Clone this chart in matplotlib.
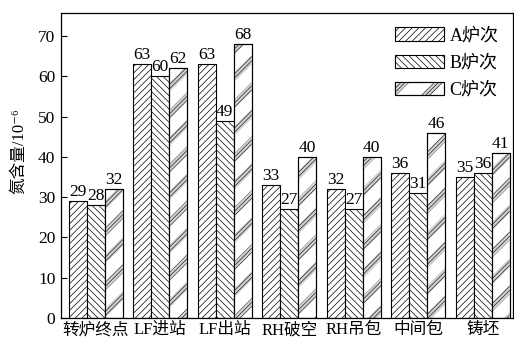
import numpy as np
import matplotlib
matplotlib.use('Agg')
import matplotlib.pyplot as plt
from matplotlib.patches import Rectangle, Polygon
from matplotlib.legend_handler import HandlerBase

plt.rcParams['font.family'] = ['Liberation Serif', 'Noto Sans CJK SC', 'DejaVu Serif']
plt.rcParams['hatch.linewidth'] = 0.5

# data
categories = ['转炉终点', 'LF进站', 'LF出站', 'RH破空', 'RH吊包', '中间包', '铸坯']
a_vals = [29, 63, 63, 33, 32, 36, 35]
b_vals = [28, 60, 49, 27, 27, 31, 36]
c_vals = [32, 62, 68, 40, 40, 46, 41]
series_names = ['A炉次', 'B炉次', 'C炉次']

fig = plt.figure(figsize=(5.14, 3.44), dpi=100)
ax = fig.add_axes([61 / 514, 26 / 344, 452 / 514, 305 / 344])
ax.set_xlim(-0.54, 6.47)
ax.set_ylim(0, 75.7)

x = np.arange(len(categories))
w = 0.28

bars_a = ax.bar(x - w, a_vals, w, facecolor='white', edgecolor='black',
                linewidth=0.8, hatch='/////')
bars_b = ax.bar(x, b_vals, w, facecolor='white', edgecolor='black',
                linewidth=0.8, hatch='\\\\\\\\\\')
bars_c = ax.bar(x + w, c_vals, w, facecolor='white', edgecolor='black',
                linewidth=0.8)

# striped pattern of the C bars: bands of dense hatch at 45 deg on screen
px_x = ax.transData.transform((1, 0))[0] - ax.transData.transform((0, 0))[0]
px_y = ax.transData.transform((0, 1))[1] - ax.transData.transform((0, 0))[1]
slope = px_x / px_y          # data-y per data-x for a 45 deg line
period = 27 / px_y           # band spacing in data-y
thick = 9 / px_y             # band thickness in data-y
band_face, band_line = '0.82', '0.15'
for i, bar in enumerate(bars_c):
    x0 = bar.get_x()
    x1 = x0 + bar.get_width()
    rise = slope * (x1 - x0)
    phase = (i * 0.37 % 1) * period
    k = -2
    while k * period + phase < bar.get_height() + period:
        b = k * period + phase
        band = Polygon([(x0, b), (x1, b + rise), (x1, b + rise + thick), (x0, b + thick)],
                       closed=True, facecolor=band_face, edgecolor=band_line,
                       linewidth=0, hatch='////////')
        ax.add_patch(band)
        band.set_clip_path(bar)
        k += 1
    # redraw the outline on top of the bands
    ax.add_patch(Rectangle((x0, 0), x1 - x0, bar.get_height(), fill=False,
                           edgecolor='black', linewidth=0.8))

# value labels
for bars, vals in [(bars_a, a_vals), (bars_b, b_vals), (bars_c, c_vals)]:
    for bar, v in zip(bars, vals):
        ax.text(bar.get_x() + bar.get_width() / 2, v + 0.2, str(v),
                ha='center', va='bottom', fontsize=12.5)

ax.set_xticks(x)
ax.set_xticklabels(categories, fontsize=12)
ax.tick_params(axis='x', length=0, pad=3)
ax.set_yticks(np.arange(0, 71, 10))
ax.tick_params(axis='y', direction='in', length=4, width=0.8, pad=4, labelsize=12.5)
ax.set_ylabel('氮含量/10⁻⁶', fontsize=12)
ax.yaxis.set_label_coords(-0.074, 0.548)
for s in ax.spines.values():
    s.set_linewidth(0.9)


class BandHandler(HandlerBase):
    def create_artists(self, legend, orig_handle, xdescent, ydescent,
                       width, height, fontsize, trans):
        rect = Rectangle((-xdescent, -ydescent), width, height, facecolor='white',
                         edgecolor='black', linewidth=0.8, transform=trans)
        arts = [rect]
        for off in [0.1, 0.8]:
            x0 = -xdescent + off * width - height
            p = Polygon([(x0, -ydescent), (x0 + 0.2 * width, -ydescent),
                         (x0 + 0.2 * width + height, -ydescent + height),
                         (x0 + height, -ydescent + height)],
                        closed=True, facecolor=band_face, edgecolor=band_line,
                        linewidth=0, hatch='////////', transform=trans)
            p.set_clip_path(rect)
            arts.append(p)
        edge = Rectangle((-xdescent, -ydescent), width, height, fill=False,
                         edgecolor='black', linewidth=0.8, transform=trans)
        arts.append(edge)
        return arts


h_a = Rectangle((0, 0), 1, 1, facecolor='white', edgecolor='black', linewidth=0.8, hatch='/////')
h_b = Rectangle((0, 0), 1, 1, facecolor='white', edgecolor='black', linewidth=0.8, hatch='\\\\\\\\\\')
h_c = Rectangle((0, 0), 1, 1, facecolor='white', edgecolor='black', linewidth=0.8)
ax.legend([h_a, h_b, h_c], series_names, loc='upper right', frameon=False,
          fontsize=13, handlelength=2.7, handleheight=0.8, handletextpad=0.3,
          labelspacing=0.55, borderaxespad=0.4,
          handler_map={h_c: BandHandler()})

fig.savefig('out.png', dpi=100)
